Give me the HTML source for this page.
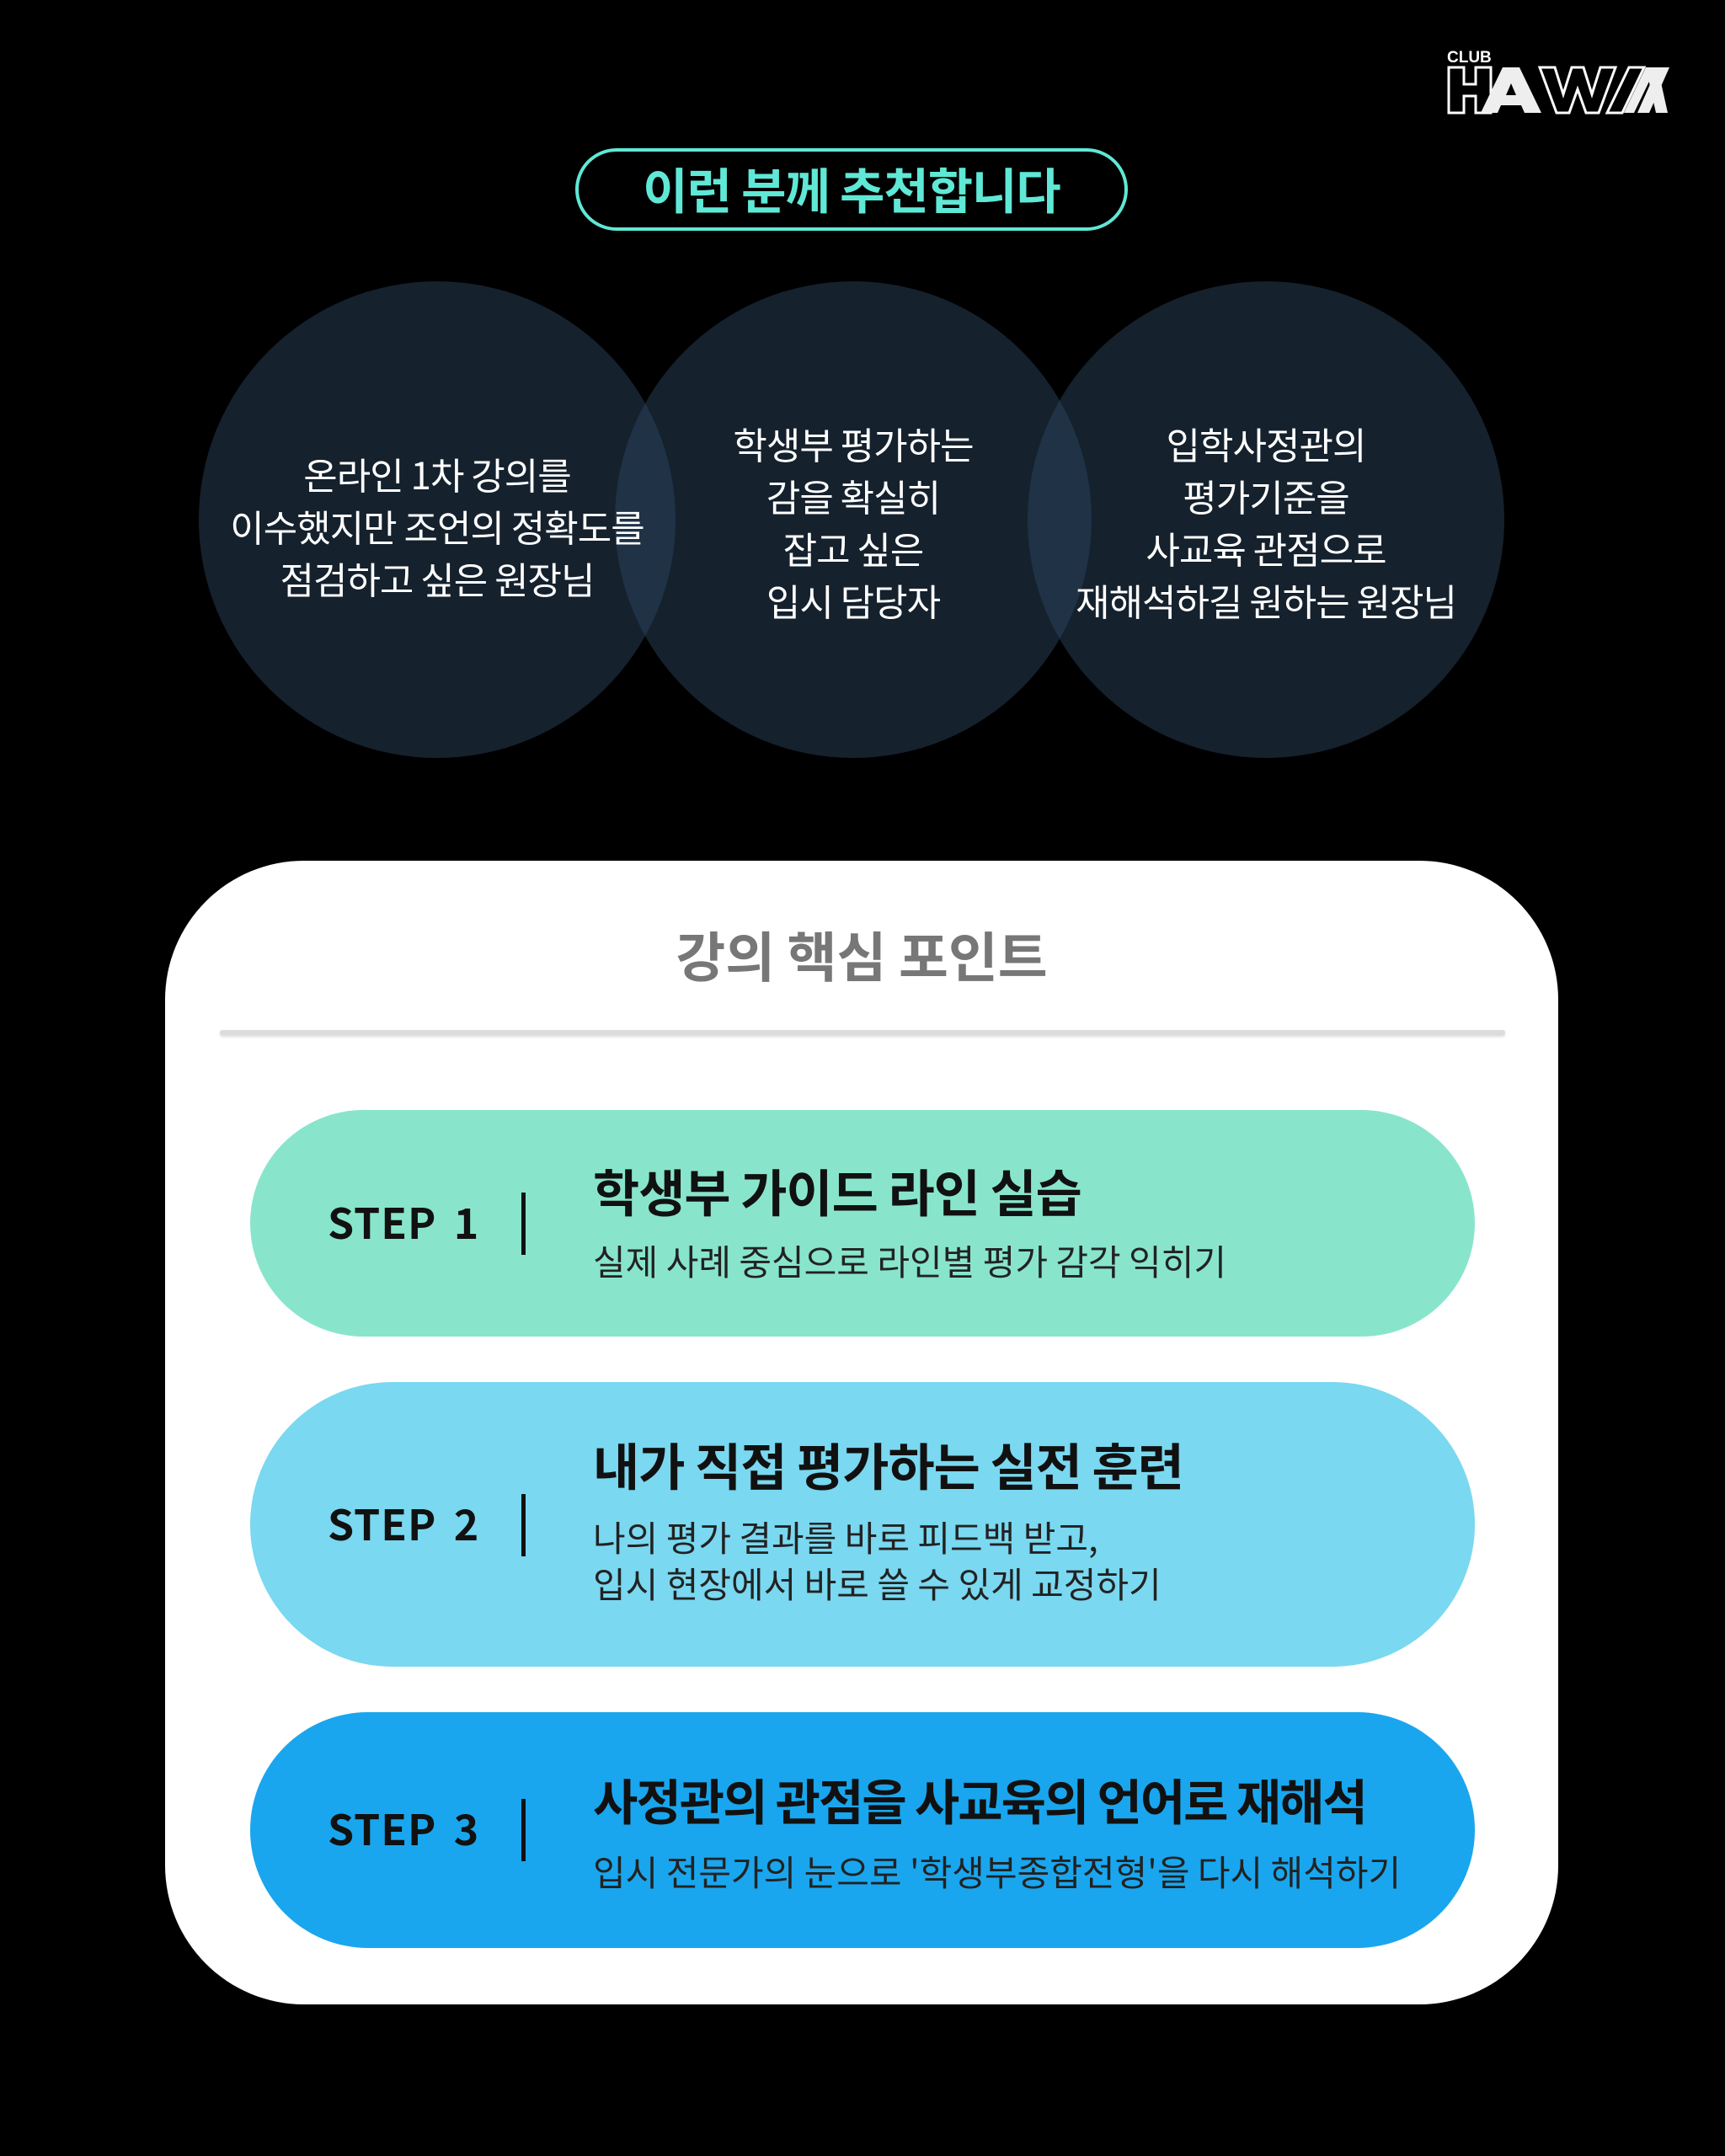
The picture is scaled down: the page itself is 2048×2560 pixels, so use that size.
<!DOCTYPE html>
<html><head><meta charset="utf-8"><style>
*{margin:0;padding:0;box-sizing:border-box}
body{width:2048px;height:2560px;background:#000;position:relative;overflow:hidden;font-family:"Liberation Sans","Noto Sans CJK KR",sans-serif}
.a{position:absolute}
.t{position:absolute;white-space:nowrap;line-height:1}
.circ{position:absolute;width:566px;height:566px;border-radius:50%;background:rgba(45,72,98,0.46)}
.ct{position:absolute;width:600px;text-align:center;color:#fff;font-size:44px;line-height:62px;font-family:"Noto Sans CJK KR",sans-serif;font-weight:400;letter-spacing:-1px}
.pill{position:absolute;left:297px;width:1454px;border-radius:200px}
.step{position:absolute;left:389px;font-size:50px;font-weight:700;color:#111;font-family:"Noto Sans CJK KR",sans-serif;line-height:1;word-spacing:8px;letter-spacing:1px}
.bar{position:absolute;left:619px;width:5px;height:74px;background:#111}
.tt{position:absolute;left:704px;font-size:60px;font-weight:700;color:#111;font-family:"Noto Sans CJK KR",sans-serif;line-height:1;white-space:nowrap;letter-spacing:-1px}
.st{position:absolute;left:704px;font-size:42px;color:#222;font-family:"Noto Sans CJK KR",sans-serif;line-height:1;white-space:nowrap}
</style></head><body>
<div class="t" style="left:1718px;top:59px;font-size:19px;font-weight:700;color:#fff;font-family:'Liberation Sans',sans-serif">CLUB</div>
<svg class="a" style="left:1718px;top:78px" width="265" height="60" viewBox="0 0 265 60">
<path d="M2 2h18v20h14V2h18v54H34V36H20v20H2z" fill="none" stroke="#fff" stroke-width="3"/>
<path d="M40 56L66 2h20l26 54H92l-4-9H64l-4 9z M70 35h12l-6-14z" fill="#eee" fill-rule="evenodd"/>
<path d="M110 2h18l10 32 10-32h14l10 32 10-32h18l-20 54h-15l-10-28-10 28h-15z" fill="none" stroke="#fff" stroke-width="3"/>
<path d="M190 56L216 2h18l-26 54z" fill="none" stroke="#fff" stroke-width="3"/>
<path d="M210 56L236 2h12l-26 54z M226 56L250 2h14l-24 54z" fill="#eee"/>
<path d="M236 2h14l12 54h-14z" fill="#eee"/>
</svg>
<div class="a" style="left:683px;top:176px;width:656px;height:98px;border:4px solid #5fe8d6;border-radius:50px"></div>
<div class="t" style="left:683px;top:193px;width:656px;text-align:center;font-size:58px;font-weight:700;color:#5fe8d6;font-family:'Noto Sans CJK KR',sans-serif;line-height:60px;letter-spacing:-1px">이런 분께 추천합니다</div>
<div class="circ" style="left:236px;top:334px"></div>
<div class="circ" style="left:730px;top:334px"></div>
<div class="circ" style="left:1220px;top:334px"></div>
<div class="ct" style="left:219px;top:531px">온라인 1차 강의를<br>이수했지만 조언의 정확도를<br>점검하고 싶은 원장님</div>
<div class="ct" style="left:713px;top:495px">학생부 평가하는<br>감을 확실히<br>잡고 싶은<br>입시 담당자</div>
<div class="ct" style="left:1203px;top:495px">입학사정관의<br>평가기준을<br>사교육 관점으로<br>재해석하길 원하는 원장님</div>
<div class="a" style="left:196px;top:1022px;width:1654px;height:1358px;background:#fff;border-radius:165px"></div>
<div class="t" style="left:196px;top:1099px;width:1654px;text-align:center;font-size:64px;font-weight:700;color:#777;font-family:'Noto Sans CJK KR',sans-serif;line-height:68px">강의 핵심 포인트</div>
<div class="a" style="left:261px;top:1223px;width:1526px;height:6px;background:#dcdcdc;border-radius:3px;box-shadow:0 2px 3px rgba(0,0,0,0.15)"></div>
<div class="pill" style="top:1318px;height:269px;background:#88e5cc"></div>
<div class="step" style="top:1425px">STEP 1</div>
<div class="bar" style="top:1416px"></div>
<div class="tt" style="top:1384px">학생부 가이드 라인 실습</div>
<div class="st" style="top:1476px">실제 사례 중심으로 라인별 평가 감각 익히기</div>
<div class="pill" style="top:1641px;height:338px;background:#7ad8f0"></div>
<div class="step" style="top:1783px">STEP 2</div>
<div class="bar" style="top:1774px"></div>
<div class="tt" style="top:1709px">내가 직접 평가하는 실전 훈련</div>
<div class="st" style="top:1804px">나의 평가 결과를 바로 피드백 받고,</div>
<div class="st" style="top:1859px">입시 현장에서 바로 쓸 수 있게 교정하기</div>
<div class="pill" style="top:2033px;height:280px;background:#19a6ee"></div>
<div class="step" style="top:2145px">STEP 3</div>
<div class="bar" style="top:2136px"></div>
<div class="tt" style="top:2107px;font-size:58px;letter-spacing:-2px">사정관의 관점을 사교육의 언어로 재해석</div>
<div class="st" style="top:2201px">입시 전문가의 눈으로 '학생부종합전형'을 다시 해석하기</div>
</body></html>
